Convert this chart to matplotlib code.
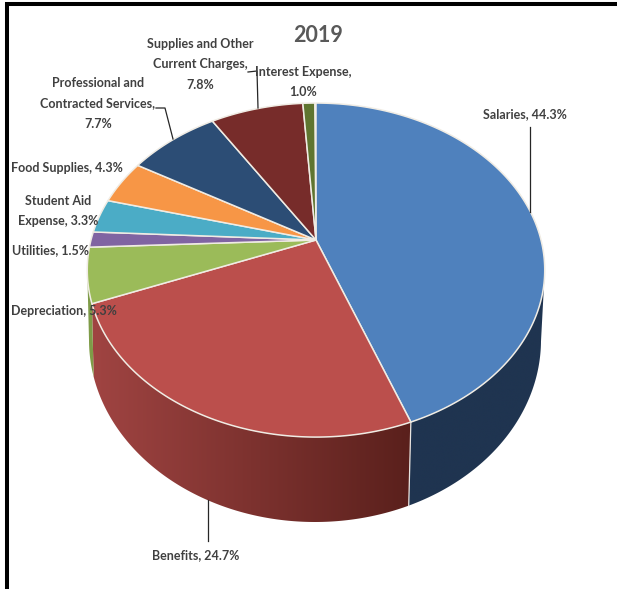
import numpy as np
import matplotlib
matplotlib.use("Agg")
import matplotlib.pyplot as plt
from matplotlib.colors import to_rgb
from matplotlib.patches import Polygon

# Budget shares, clockwise from twelve o'clock
categories = ["Salaries", "Benefits", "Depreciation", "Utilities", "Student Aid Expense",
              "Food Supplies", "Professional and Contracted Services",
              "Supplies and Other Current Charges", "Interest Expense"]
shares = [44.3, 24.7, 5.3, 1.5, 3.3, 4.3, 7.7, 7.8, 1.0]
year_title = "2019"

top_colors = ["#4f81bd", "#bb4f4c", "#9bbb59", "#8064a2", "#4bacc6",
              "#f79646", "#2c4d75", "#772c2a", "#5f7530"]
# Wall shading per slice, start colour and end colour along the rim
wall_colors = {0: ("#1f3450", "#1f3450"), 1: ("#5a201c", "#a04442"), 2: ("#7f9c48", "#7f9c48")}

# Perspective of the pie disc, in pixel coordinates of the canvas
CX, CY = 316.0, 240.0
RX, RY, K = 225.0, 161.6, 0.18
RIM_CY = CY + RY * K / (1 - K ** 2)
RIM_RX = RX / np.sqrt(1 - K ** 2)
# Lower outline of the side wall
BX, BY, BRX, BRY = 315.0, 340.0, 226.0, 182.0

TEXT = "#404040"
FONT = ["Lato", "DejaVu Sans"]
LABEL_SIZE = 9.0
LINE_SPACING = 1.84


def rim(theta_deg):
    t = np.radians(theta_deg)
    px, py = np.sin(t), np.cos(t)
    den = 1 + K * py
    return CX + RX * px / den, CY - RY * py / den


def wall_bottom(x):
    u = np.clip((x - CX) / RIM_RX, -1, 1)
    return BX + BRX * u, BY + BRY * np.sqrt(1 - u ** 2)


fig = plt.figure(figsize=(6.17, 5.89), dpi=100, facecolor="white")
ax = fig.add_axes([0, 0, 1, 1])
ax.set_xlim(0, 617)
ax.set_ylim(589, 0)
ax.axis("off")

edges = np.concatenate([[0], np.cumsum(shares)]) * 3.6

# Side walls: each slice's outline filled with a left-to-right colour ramp
for i, (a0, a1) in enumerate(zip(edges[:-1], edges[1:])):
    if i not in wall_colors:
        continue
    th = np.linspace(a0, a1, 240)
    xs, ys = rim(th)
    keep = ys >= RIM_CY
    xs, ys = xs[keep], ys[keep]
    bx, by = wall_bottom(xs)
    outline = np.column_stack([np.r_[xs, bx[::-1]], np.r_[ys, by[::-1]]])
    shape = Polygon(outline, closed=True, facecolor="none", edgecolor="none")
    ax.add_patch(shape)
    c_start, c_end = map(np.array, map(to_rgb, wall_colors[i]))
    left, right = outline[:, 0].min(), outline[:, 0].max()
    top, bottom = outline[:, 1].min(), outline[:, 1].max()
    ramp = np.linspace(1, 0, 256)[None, :, None] * (c_end - c_start) + c_start
    im = ax.imshow(ramp, extent=(left, right, bottom, top), aspect="auto",
                   interpolation="bilinear", zorder=2)
    im.set_clip_path(shape)
ax.set_xlim(0, 617)
ax.set_ylim(589, 0)

# Light seam between the Salaries and Benefits walls
sx, sy = rim(edges[1])
bsx, bsy = wall_bottom(sx)
ax.plot([sx, bsx], [sy, bsy], color="#e8e4e0", lw=0.9, zorder=3)

# Top face of the pie
for a0, a1, col in zip(edges[:-1], edges[1:], top_colors):
    th = np.linspace(a0, a1, max(int(a1 - a0) * 2, 8))
    xs, ys = rim(th)
    ax.fill(np.r_[CX, xs], np.r_[CY, ys], facecolor=col, edgecolor="#f0ece4",
            lw=1.1, joinstyle="round", zorder=4)

# Leader lines from labels to the disc
leaders = [([530, 530], [127, 212]),
           ([208, 208], [500, 541]),
           ([248, 257, 258], [72, 71, 108]),
           ([156, 165, 173], [108, 108, 139])]
for lx, ly in leaders:
    ax.plot(lx, ly, color="#262626", lw=0.9, zorder=5)

# Category labels
labels = [("Salaries, 44.3%", 524.5, 114),
          ("Benefits, 24.7%", 195.5, 555),
          ("Depreciation, 5.3%", 64, 311),
          ("Utilities, 1.5%", 50, 250),
          ("Student Aid\nExpense, 3.3%", 58, 211),
          ("Food Supplies, 4.3%", 67, 168),
          ("Professional and\nContracted Services,\n7.7%", 98, 103.5),
          ("Supplies and Other\nCurrent Charges,\n7.8%", 200, 64.5),
          ("Interest Expense,\n1.0%", 303, 82)]
for txt, x, y in labels:
    ax.text(x, y, txt, ha="center", va="center", family=FONT, fontsize=LABEL_SIZE,
            fontweight="bold", color=TEXT, linespacing=LINE_SPACING, zorder=6)

ax.text(318, 36, year_title, ha="center", va="center", family=FONT, fontsize=15.5,
        fontweight="bold", color="#595959", zorder=6)

# Black border along the top and left
ax.plot([5, 617], [4, 4], color="black", lw=2.9, solid_capstyle="butt", zorder=7)
ax.plot([7, 7], [2, 589], color="black", lw=2.9, solid_capstyle="butt", zorder=7)

fig.savefig("out.png", dpi=100, facecolor="white")
